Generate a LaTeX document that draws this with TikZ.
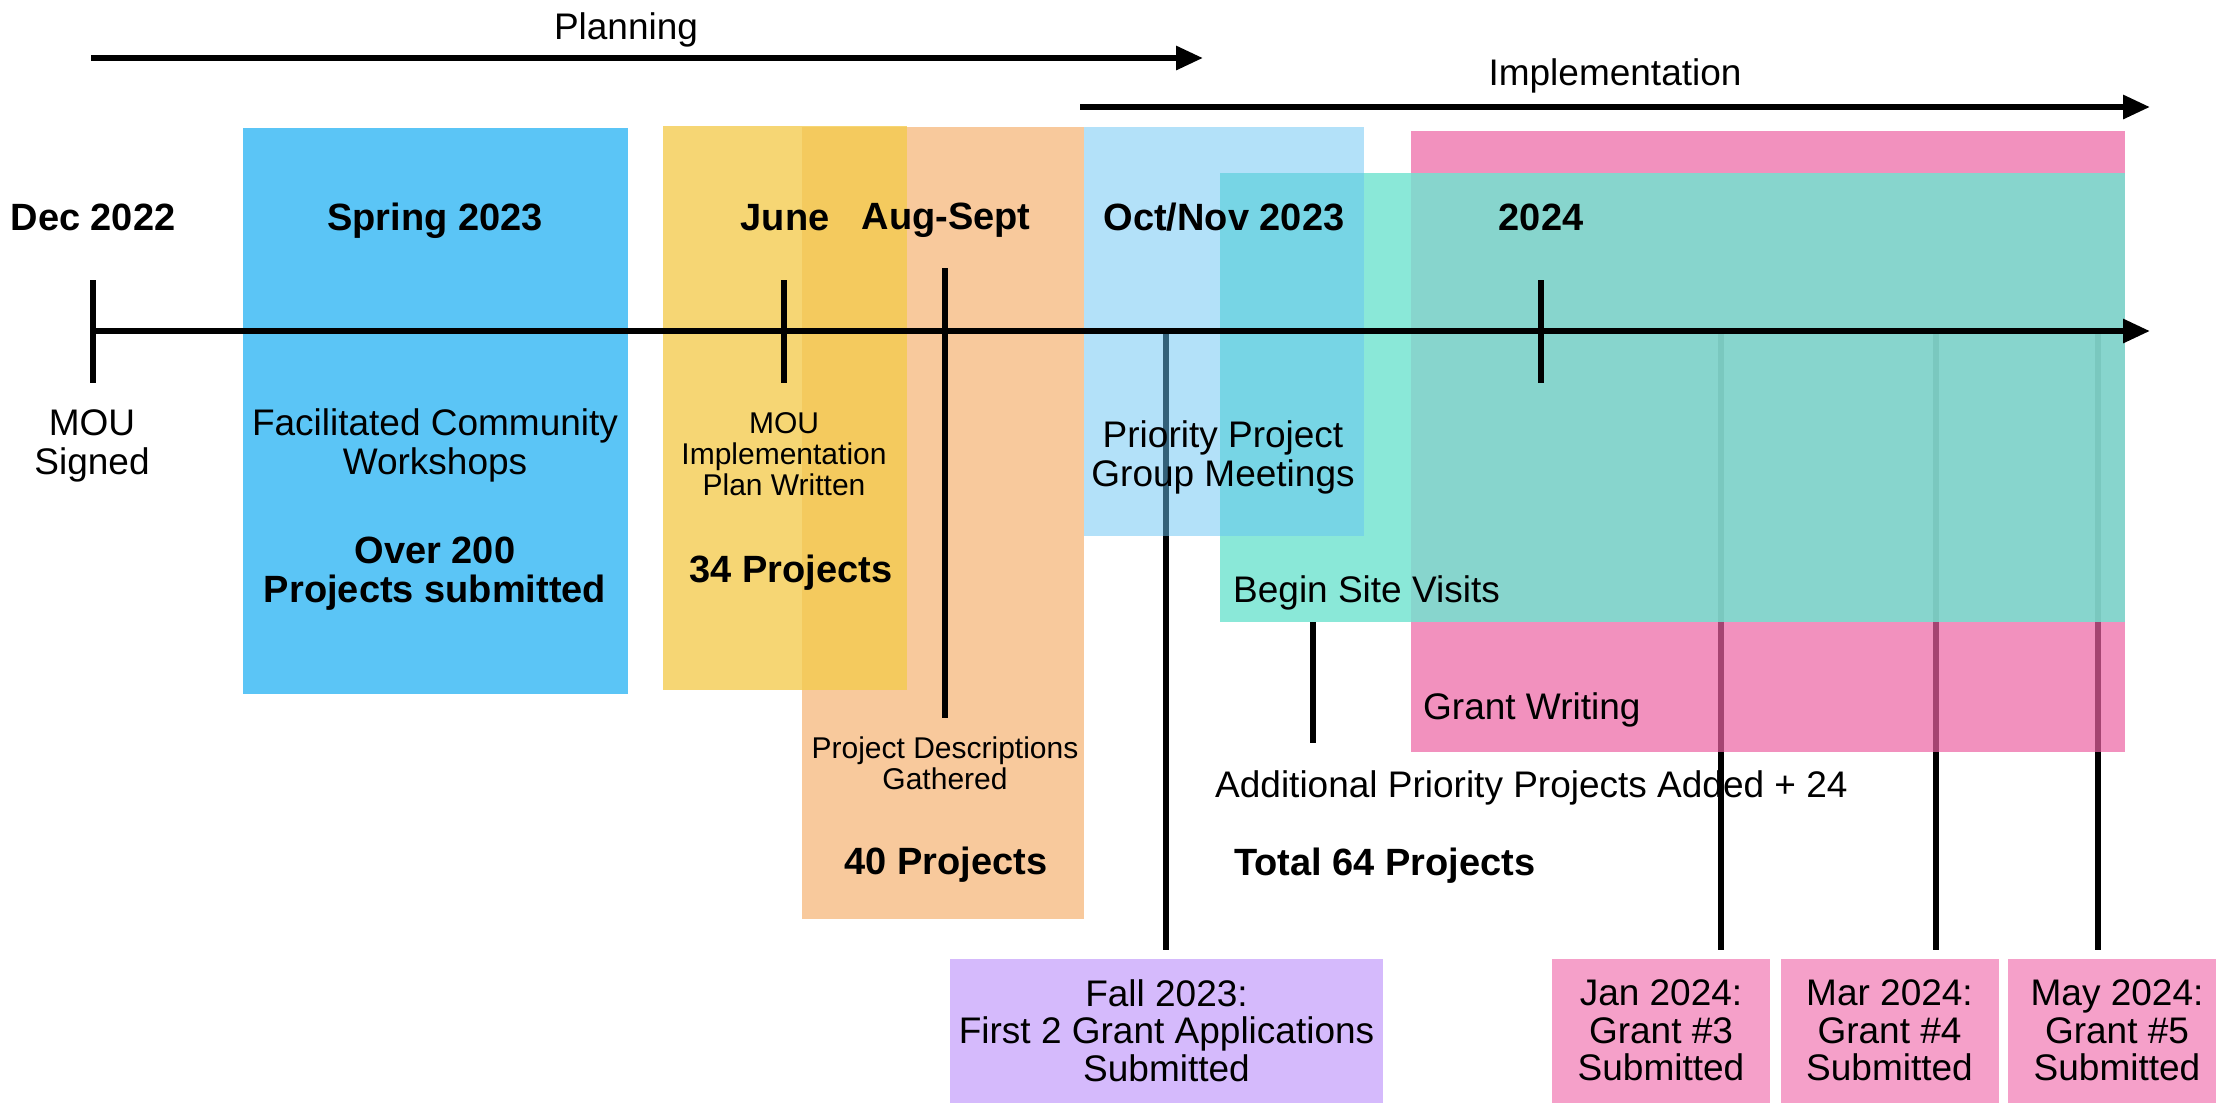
\documentclass[tikz,border=0pt]{standalone}
\usepackage{fontspec}
\setmainfont{Liberation Sans}
\usetikzlibrary{arrows.meta}

\begin{document}
\begin{tikzpicture}[x=0.3pt,y=0.3pt,yscale=-1,xscale=1,
  lbl/.style={inner sep=0.75pt, align=center, font=\fontsize{11.1}{11.55}\selectfont},
  hdr/.style={inner sep=0.75pt, align=center, font=\bfseries\fontsize{11.4}{11.7}\selectfont},
  sml/.style={inner sep=0.75pt, align=center, font=\fontsize{9}{9.3}\selectfont},
  gbox/.style={inner sep=0.75pt, align=center, anchor=north, minimum height=43.2pt, font=\fontsize{11.1}{11.25}\selectfont},
  thick line/.style={line width=1.8pt},
  big arrow/.style={line width=1.8pt, -{Triangle[length=8.1pt,width=6.9pt]}}
]
\useasboundingbox (0,0) rectangle (2216,1102);

% submission boxes at the bottom
\draw (1166.5,958) node (fall) [gbox, minimum width=129.9pt, fill={rgb, 255:red, 213; green, 186; blue, 252 }] {Fall 2023:\\First 2 Grant Applications\\Submitted};
\draw (1661,958) node (jan) [gbox, minimum width=65.4pt, fill={rgb, 255:red, 245; green, 160; blue, 201 }] {Jan 2024:\\Grant \#3\\Submitted};
\draw (1889.5,958) node (mar) [gbox, minimum width=65.4pt, fill={rgb, 255:red, 245; green, 160; blue, 201 }] {Mar 2024:\\Grant \#4\\Submitted};
\draw (2117,958) node (may) [gbox, minimum width=65.4pt, fill={rgb, 255:red, 245; green, 160; blue, 201 }] {May 2024:\\Grant \#5\\Submitted};

% drop lines (under the coloured bands)
\coordinate (oct) at (1166,331);
\coordinate (g3) at (1721,331);
\coordinate (g4) at (1936,331);
\coordinate (g5) at (2098,331);
\draw [thick line, shorten >=2.4pt] (oct) -- (oct |- fall.north);
\draw [thick line, shorten >=2.4pt] (g3) -- (g3 |- jan.north);
\draw [thick line, shorten >=2.4pt] (g4) -- (g4 |- mar.north);
\draw [thick line, shorten >=2.4pt] (g5) -- (g5 |- may.north);

% bands
\fill [color={rgb, 255:red, 91; green, 197; blue, 246 }] (243,128) rectangle (628,694);
\fill [color={rgb, 255:red, 248; green, 201; blue, 156 }] (802,127) rectangle (1084,919);
\fill [color={rgb, 255:red, 243; green, 203; blue, 77 }, fill opacity=0.78] (663,126) rectangle (907,690);
\fill [color={rgb, 255:red, 236; green, 98; blue, 162 }, fill opacity=0.7] (1411,131) rectangle (2125,752);
\fill [color={rgb, 255:red, 114; green, 227; blue, 208 }, fill opacity=0.83] (1220,173) rectangle (2125,622);
\fill [color={rgb, 255:red, 103; green, 195; blue, 243 }, fill opacity=0.5] (1084,127) rectangle (1364,536);

% phases
\draw [big arrow] (91,58) -- (1203,58);
\draw [big arrow] (1080,107) -- (2150,107);
\draw (626,39) node (plan) [lbl, anchor=base] {Planning};
\draw (1615,85) node (impl) [lbl, anchor=base] {Implementation};

% timeline and ticks
\draw [big arrow] (93,331) -- (2150,331);
\draw [thick line] (93,280) -- (93,383);
\draw [thick line] (784,280) -- (784,383);
\draw [thick line] (945,268) -- (945,718);
\draw [thick line] (1541,280) -- (1541,383);
\draw [thick line] (1313,622) -- (1313,743);

% dates
\draw (93,230) node (dec) [hdr, anchor=base] {Dec 2022};
\draw (435,230) node (spring) [hdr, anchor=base] {Spring 2023};
\draw (785,230) node (june) [hdr, anchor=base] {June};
\draw (946,229) node (aug) [hdr, anchor=base] {Aug-Sept};
\draw (1224,230) node (octnov) [hdr, anchor=base] {Oct/Nov 2023};
\draw (1541,230) node (yr) [hdr, anchor=base] {2024};

% events (base = last line)
\draw (92,474) node (mou) [lbl, anchor=base] {MOU\\Signed};
\draw (435,474) node (wksp) [lbl, anchor=base] {Facilitated Community\\Workshops};
\draw (435,602) node (over) [hdr, anchor=base] {Over 200\\Projects submitted};
\draw (784,495) node (plw) [sml, anchor=base] {MOU\\Implementation\\Plan Written};
\draw (791,582) node (p34) [hdr, anchor=base] {34 Projects};
\draw (945,789) node (desc) [sml, anchor=base] {Project Descriptions\\Gathered};
\draw (946,874) node (p40) [hdr, anchor=base] {40 Projects};
\draw (1223,486) node (meet) [lbl, anchor=base] {Priority Project\\Group Meetings};
\draw (1230,602) node (site) [lbl, anchor=base west] {Begin Site Visits};
\draw (1420,719) node (gw) [lbl, anchor=base west] {Grant Writing};
\draw (1212,797) node (add) [lbl, anchor=base west] {Additional Priority Projects Added + 24};
\draw (1231,875) node (tot) [hdr, anchor=base west] {Total 64 Projects};
\end{tikzpicture}
\end{document}
